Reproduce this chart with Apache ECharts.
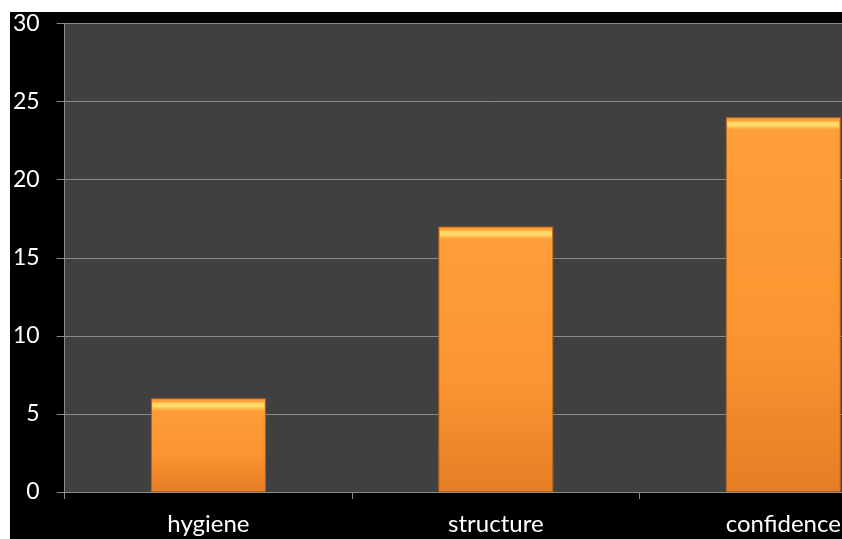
<!DOCTYPE html>
<html>
<head>
<meta charset="utf-8">
<script src="https://cdn.jsdelivr.net/npm/echarts@6/dist/echarts.min.js"></script>
<style>
html,body{margin:0;padding:0;background:#ffffff;width:842px;height:539px;overflow:hidden;position:relative;}
#chart{position:absolute;left:10px;top:12px;width:917px;height:527px;background:#000000;}
</style>
</head>
<body>
<div id="chart"></div>
<script>
var categories = ['hygiene', 'structure', 'confidence'];
var values = [6, 17, 24];
var yTicks = [0, 5, 10, 15, 20, 25, 30];

var chart = echarts.init(document.getElementById('chart'), null, {renderer: 'canvas'});
var font = 'Lato, "Open Sans", sans-serif';
chart.setOption({
  backgroundColor: '#000000',
  animation: false,
  grid: {
    left: 53, top: 9, right: 0, bottom: 47,
    show: true, backgroundColor: '#404040', borderWidth: 0
  },
  xAxis: {
    type: 'category',
    data: categories,
    axisLine: {show: true, lineStyle: {color: '#8c8c8c', width: 1}},
    axisTick: {show: true, length: 7, lineStyle: {color: '#8c8c8c'}},
    axisLabel: {color: '#ffffff', fontSize: 24, fontFamily: font, margin: 20}
  },
  yAxis: {
    type: 'value',
    min: yTicks[0], max: yTicks[yTicks.length - 1], interval: 5,
    axisLine: {show: true, lineStyle: {color: '#8c8c8c', width: 1}},
    axisTick: {show: true, length: 8, lineStyle: {color: '#8c8c8c'}},
    splitLine: {show: true, lineStyle: {color: '#8a8a8a', width: 1}},
    axisLabel: {color: '#ffffff', fontSize: 23, fontFamily: font, margin: 25,
      formatter: function (v) { return yTicks.indexOf(v) >= 0 ? String(v) : ''; }}
  },
  series: [
    {
      type: 'bar',
      data: values,
      barWidth: 115,
      itemStyle: {
        color: new echarts.graphic.LinearGradient(0, 0, 0, 1, [
          {offset: 0, color: '#ffa03a'},
          {offset: 0.6, color: '#fb9430'},
          {offset: 1, color: '#e57d26'}
        ]),
        borderColor: '#b85f18',
        borderWidth: 1
      },
      z: 2
    },
    {
      type: 'pictorialBar',
      data: values,
      symbol: 'rect',
      symbolSize: [112, 8],
      symbolPosition: 'end',
      symbolOffset: [0, '50%'],
      barGap: '-100%',
      itemStyle: {
        color: new echarts.graphic.LinearGradient(0, 0, 0, 1, [
          {offset: 0, color: '#ffc850'},
          {offset: 0.45, color: '#ffe070'},
          {offset: 1, color: '#ffa63c'}
        ])
      },
      z: 3
    }
  ]
});
</script>
</body>
</html>
